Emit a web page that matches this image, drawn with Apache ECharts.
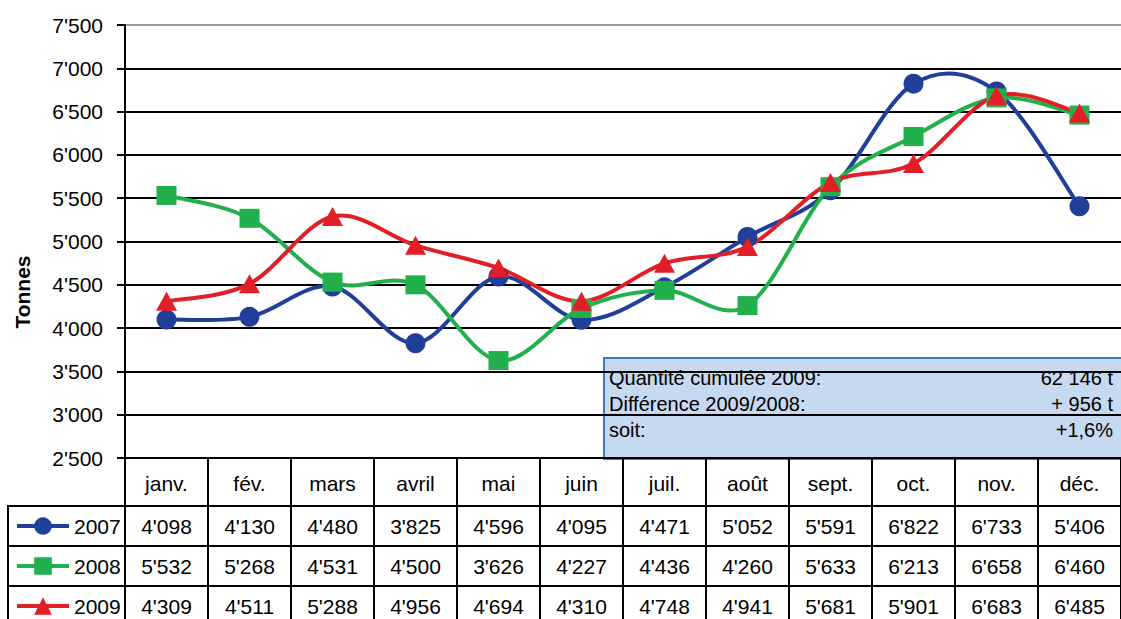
<!DOCTYPE html>
<html><head><meta charset="utf-8">
<script src="https://cdn.jsdelivr.net/npm/echarts@6/dist/echarts.min.js"></script>
<style>html,body{margin:0;padding:0;background:#fff}#c{width:1121px;height:619px}</style>
</head><body><div id="c"></div>
<script>
const months = ['janv.','fév.','mars','avril','mai','juin','juil.','août','sept.','oct.','nov.','déc.'];
const v2007 = [4098,4130,4480,3825,4596,4095,4471,5052,5591,6822,6733,5406];
const v2008 = [5532,5268,4531,4500,3626,4227,4436,4260,5633,6213,6658,6460];
const v2009 = [4309,4511,5288,4956,4694,4310,4748,4941,5681,5901,6683,6485];
const yMin = 2500, yMax = 7500, yStep = 500;
const boxLabels = ['Quantité cumulée 2009:','Différence 2009/2008:','soit:'];
const boxValues = ['62 146 t','+ 956 t','+1,6%'];

const fmt = v => { const s = String(v); return s.length > 3 ? s.slice(0,-3) + "'" + s.slice(-3) : s; };
const SANS = '"Liberation Sans", Arial, sans-serif';

const seriesDefs = [
  {name:'2007', data:v2007, color:'#1f3f99', symbol:'circle', size:20},
  {name:'2008', data:v2008, color:'#21b04b', symbol:'rect', size:[20,19]},
  {name:'2009', data:v2009, color:'#e21e26', symbol:'triangle', size:[21,19]}
];

function tableAxis(offset, vals) {
  return {
    type:'category', data:months, position:'bottom', offset:offset, boundaryGap:true,
    axisLine:{show:true, lineStyle:{color:'#000', width:2}},
    axisTick:{show:true, interval:0, length:40, lineStyle:{color:'#000', width:2}},
    axisLabel:{interval:0, formatter:(v,i)=>fmt(vals[i]), margin:20, verticalAlign:'middle',
      fontFamily:SANS, fontSize:21, color:'#000'}
  };
}

// Excel-like smoothed curve (Catmull-Rom bezier) drawn through the chart's own scales
function curveSeries(d) {
  const a = d.data, n = a.length;
  return {
    type:'custom', name:d.name + ' ', data:a.map((v,i)=>[i,v]), z:2, silent:true,
    renderItem:(params, api) => {
      const i = params.dataIndex;
      if (i >= n - 1) return null;
      const P = k => { const j = Math.max(0, Math.min(n - 1, k)); return api.coord([j, a[j]]); };
      const p0 = P(i-1), p1 = P(i), p2 = P(i+1), p3 = P(i+2), t = 1/6;
      return {type:'bezierCurve', shape:{
          x1:p1[0], y1:p1[1], x2:p2[0], y2:p2[1],
          cpx1:p1[0] + (p2[0]-p0[0])*t, cpy1:p1[1] + (p2[1]-p0[1])*t,
          cpx2:p2[0] - (p3[0]-p1[0])*t, cpy2:p2[1] - (p3[1]-p1[1])*t},
        style:{stroke:d.color, lineWidth:4, fill:null, lineCap:'round'}};
    }
  };
}

const splitColors = [];
for (let v = yMin; v <= yMax; v += yStep) splitColors.push(v === yMax ? '#9a9a9a' : '#000');

const legends = seriesDefs.map((d, k) => ({
  orient:'horizontal', left:15, top:515 + k*40, padding:0, itemWidth:52, itemHeight:22, itemGap:5,
  selectedMode:false, data:[d.name], lineStyle:{opacity:1, width:4},
  textStyle:{fontFamily:SANS, fontSize:21, color:'#000', lineHeight:22, verticalAlign:'middle'}
}));

const chart = echarts.init(document.getElementById('c'), null, {renderer:'svg'});
chart.setOption({
  animation:false,
  backgroundColor:'#fff',
  grid:{left:125, right:-9, top:25, bottom:161},
  xAxis:[
    {type:'category', data:months, position:'bottom', boundaryGap:true,
      axisLine:{show:true, lineStyle:{color:'#000', width:2}},
      axisTick:{show:true, interval:0, length:48, lineStyle:{color:'#000', width:2}},
      axisLabel:{interval:0, margin:25, verticalAlign:'middle', fontFamily:SANS, fontSize:21, color:'#000'}},
    tableAxis(48, v2007),
    tableAxis(88, v2008),
    tableAxis(128, v2009)
  ],
  yAxis:{type:'value', min:yMin, max:yMax, interval:yStep,
    axisLine:{show:true, lineStyle:{color:'#000', width:2}},
    axisTick:{show:true, length:8, lineStyle:{color:'#000', width:2}},
    axisLabel:{formatter:fmt, margin:22, fontFamily:SANS, fontSize:21, color:'#000'},
    splitLine:{show:true, lineStyle:{color:splitColors, width:2}}},
  legend:legends,
  series: seriesDefs.map(d => curveSeries(d)).concat(seriesDefs.map(d => ({
    name:d.name, type:'line', data:d.data, symbol:d.symbol, symbolSize:d.size,
    lineStyle:{color:d.color, width:4, opacity:0}, itemStyle:{color:d.color}, z:3
  }))),
  graphic:[
    {type:'text', x:22, y:292, rotation:Math.PI/2,
      style:{text:'Tonnes', font:'bold 21px ' + SANS, fill:'#000', align:'center', verticalAlign:'middle'}},
    {type:'line', shape:{x1:8, y1:506, x2:126, y2:506}, style:{stroke:'#000', lineWidth:2}},
    {type:'line', shape:{x1:8, y1:546, x2:126, y2:546}, style:{stroke:'#000', lineWidth:2}},
    {type:'line', shape:{x1:8, y1:586, x2:126, y2:586}, style:{stroke:'#000', lineWidth:2}},
    {type:'line', shape:{x1:8, y1:505, x2:8, y2:619}, style:{stroke:'#000', lineWidth:2}},
    {type:'group', x:604, y:358, z:100, children:[
      {type:'rect', shape:{x:0, y:0, width:530, height:101}, style:{fill:'#c6d9f1', stroke:'#3b7cc0', lineWidth:2}},
      ...boxLabels.map((t,i)=>({type:'text', x:5, y:20 + i*26,
        style:{text:t, font:'20px ' + SANS, fill:'#000', align:'left', verticalAlign:'middle'}})),
      ...boxValues.map((t,i)=>({type:'text', x:509, y:20 + i*26,
        style:{text:t, font:'20px ' + SANS, fill:'#000', align:'right', verticalAlign:'middle'}}))
    ]}
  ]
});
</script></body></html>
